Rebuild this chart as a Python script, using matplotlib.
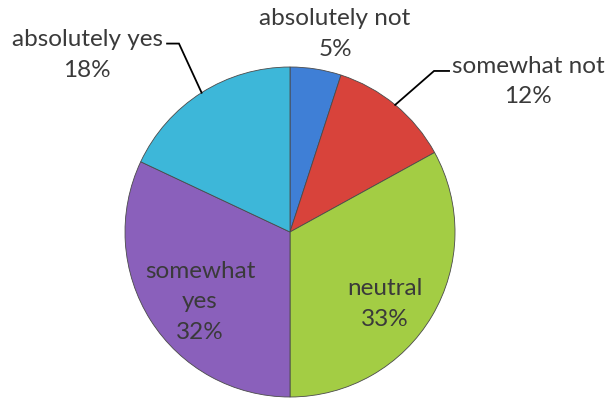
import matplotlib.pyplot as plt
import numpy as np

# survey answers, clockwise from 12 o'clock
answers = ['absolutely not', 'somewhat not', 'neutral', 'somewhat yes', 'absolutely yes']
shares = [5, 12, 33, 32, 18]
label_text = ['absolutely not', 'somewhat not', 'neutral', 'somewhat\nyes', 'absolutely yes']

colors = ['#3f7fd6', '#d8433b', '#a3cd44', '#8a60bb', '#3db7d9']

# label placement (data units, pie radius = 1)
label_pos = [(0.273, 1.20), (1.442, 0.912), (0.576, -0.436), (-0.545, -0.424), (-1.23, 1.073)]
# leader lines for the outside labels: answer -> end of the small horizontal dash
leaders = {'somewhat not': (0.964, 0.873, 0.976), 'absolutely yes': (-0.745, -0.673, 1.142)}

fig = plt.figure(figsize=(6.10, 3.98), dpi=100)
ax = fig.add_axes([0, 0, 1, 1])

wedges, _ = ax.pie(shares, colors=colors, startangle=90, counterclock=False,
                   radius=1.0, wedgeprops=dict(edgecolor='#4a4a4a', linewidth=0.6))

txt_color = '#3a3a3a'
for name, lab, pct, (x, y) in zip(answers, label_text, shares, label_pos):
    ax.text(x, y, f"{lab}\n{pct}%", ha='center', va='center', fontsize=17.5,
            family='Lato', color=txt_color, linespacing=1.55)

# leader lines go from the middle of the wedge edge to the dash
for w, name in zip(wedges, answers):
    if name in leaders:
        x_dash0, x_dash1, y_dash = leaders[name]
        mid = np.deg2rad((w.theta1 + w.theta2) / 2)
        ex, ey = np.cos(mid), np.sin(mid)
        ax.plot([x_dash0, x_dash1, ex], [y_dash, y_dash, ey], color='black', lw=1.3,
                solid_joinstyle='miter')

ax.set_xlim(-290 / 165, 320 / 165)
ax.set_ylim(-166 / 165, 232 / 165)
ax.set_aspect('auto')
ax.axis('off')

fig.savefig('out.png', dpi=100, facecolor='white')
